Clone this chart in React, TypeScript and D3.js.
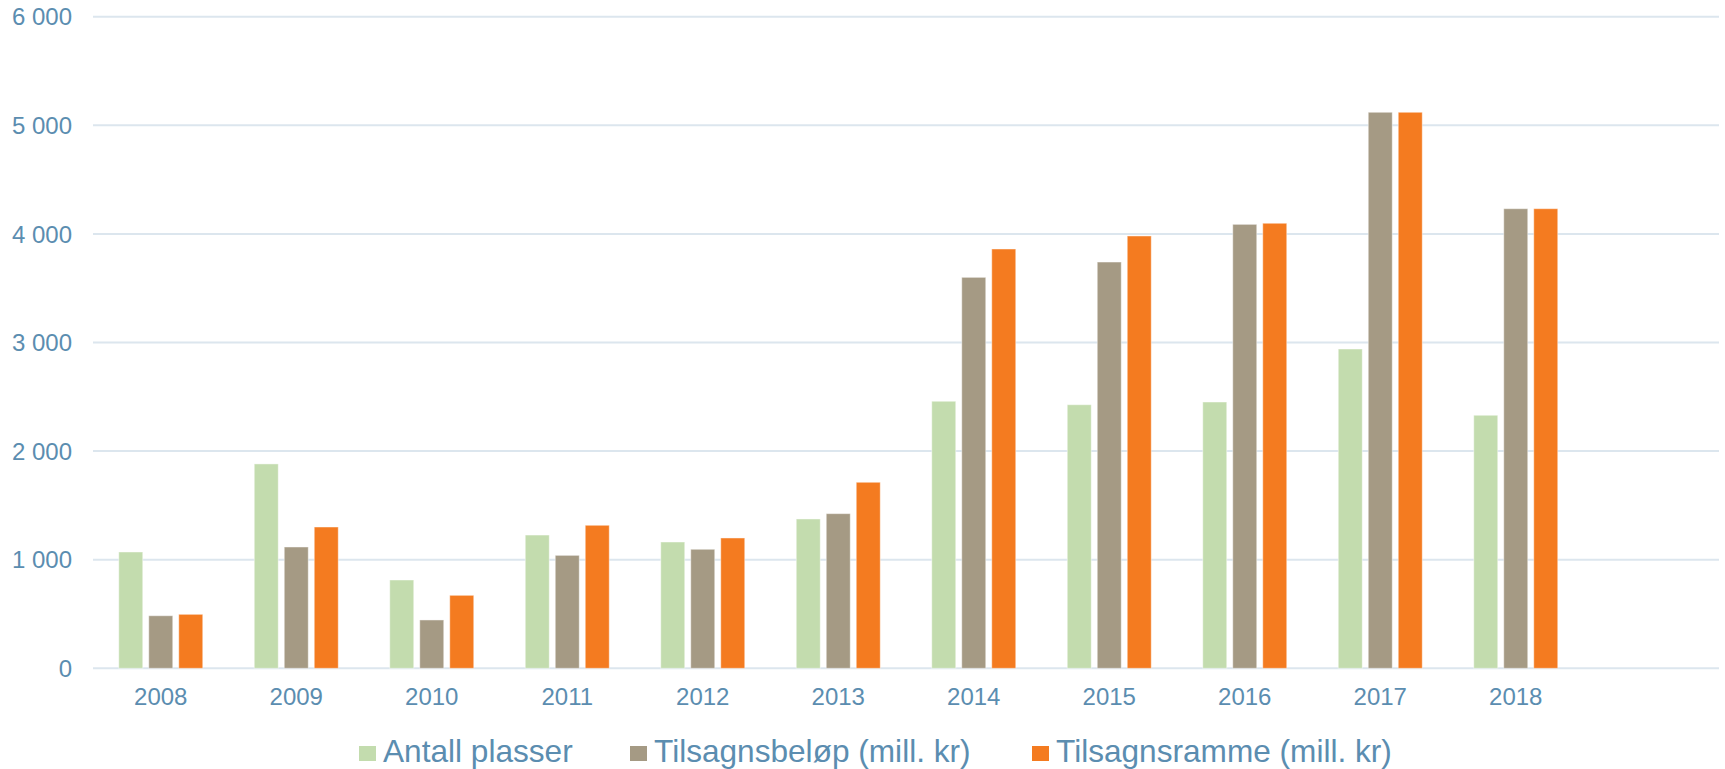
import * as d3 from 'd3';
import React, { useRef, useEffect } from 'react';

// data
const years = ['2008', '2009', '2010', '2011', '2012', '2013', '2014', '2015', '2016', '2017', '2018'];
const antallPlasser = [1071, 1882, 813, 1227, 1163, 1375, 2459, 2427, 2452, 2940, 2330];
const tilsagnsbelop = [484, 1117, 445, 1040, 1096, 1424, 3600, 3741, 4088, 5120, 4232];
const tilsagnsramme = [497, 1301, 672, 1317, 1200, 1713, 3861, 3981, 4098, 5120, 4232];
const yTicks = [0, 1000, 2000, 3000, 4000, 5000, 6000];

const seriesNames = ['Antall plasser', 'Tilsagnsbeløp (mill. kr)', 'Tilsagnsramme (mill. kr)'];
const seriesColors = ['#c3dcae', '#a59a84', '#f47b20'];
const seriesValues = [antallPlasser, tilsagnsbelop, tilsagnsramme];

const width = 1725;
const height = 769;

function BarChart() {
    const ref = useRef<SVGSVGElement>(null);

    useEffect(() => {
        draw();
    }, []);

    const draw = () => {
        const margin = { top: 16.7, right: 6, bottom: 100.7, left: 93 };
        const textColor = '#5b8db0';
        const font = '"Liberation Sans", Arial, sans-serif';

        const svg = d3.select(ref.current);
        svg.selectAll('*').remove();

        // extra empty slot at the end, like the original
        const x0 = d3.scaleBand<string>()
            .domain([...years, ''])
            .range([margin.left, width - margin.right])
            .paddingInner(0);

        const groupWidth = 84;
        const x1 = d3.scaleBand<string>()
            .domain(seriesNames)
            .range([0, groupWidth])
            .paddingInner(0.2);

        const y = d3.scaleLinear()
            .domain([0, 6000])
            .range([height - margin.bottom, margin.top]);

        const fmt = d3.formatLocale({ decimal: ',', thousands: ' ', grouping: [3], currency: ['', ' kr'] }).format(',d');

        // grid
        svg.append('g')
            .selectAll('line')
            .data(yTicks)
            .enter()
            .append('line')
            .attr('x1', margin.left)
            .attr('x2', width - margin.right)
            .attr('y1', d => y(d))
            .attr('y2', d => y(d))
            .attr('stroke', '#dce6ee')
            .attr('stroke-width', 2);

        // y labels
        svg.append('g')
            .selectAll('text')
            .data(yTicks)
            .enter()
            .append('text')
            .attr('x', 72)
            .attr('y', d => y(d))
            .attr('dy', '0.36em')
            .attr('text-anchor', 'end')
            .style('font-family', font)
            .style('font-size', '24px')
            .style('fill', textColor)
            .text(d => fmt(d));

        // bars
        const groups = svg.append('g')
            .selectAll('g')
            .data(years)
            .enter()
            .append('g')
            .attr('transform', d => `translate(${(x0(d) as number) + (x0.bandwidth() - groupWidth) / 2},0)`);

        groups.selectAll('rect')
            .data((d, i) => seriesNames.map((name, s) => ({ name, value: seriesValues[s][i], color: seriesColors[s] })))
            .enter()
            .append('rect')
            .attr('x', d => x1(d.name) as number)
            .attr('y', d => y(d.value))
            .attr('width', x1.bandwidth())
            .attr('height', d => y(0) - y(d.value))
            .attr('fill', d => d.color)
            .attr('stroke', '#ffffff')
            .attr('stroke-opacity', 0.45)
            .attr('stroke-width', 1);

        // x labels
        svg.append('g')
            .selectAll('text')
            .data(years)
            .enter()
            .append('text')
            .attr('x', d => (x0(d) as number) + x0.bandwidth() / 2)
            .attr('y', 705)
            .attr('text-anchor', 'middle')
            .style('font-family', font)
            .style('font-size', '24px')
            .style('fill', textColor)
            .text(d => d);

        // legend
        const legendX = [359, 630, 1032];
        const legend = svg.append('g')
            .selectAll('g')
            .data(seriesNames)
            .enter()
            .append('g')
            .attr('transform', (d, i) => `translate(${legendX[i]},0)`);

        legend.append('rect')
            .attr('x', 0)
            .attr('y', 746)
            .attr('width', 17)
            .attr('height', 15)
            .attr('fill', (d, i) => seriesColors[i]);

        legend.append('text')
            .attr('x', 24)
            .attr('y', 762)
            .style('font-family', font)
            .style('font-size', '31.6px')
            .style('fill', textColor)
            .text(d => d);
    };

    return (
        <svg
            ref={ref}
            width={width}
            height={height}
            style={{ position: 'absolute', left: 0, top: 0, background: '#fff' }}
        />
    );
}

export default function App() {
    return <BarChart />;
}
